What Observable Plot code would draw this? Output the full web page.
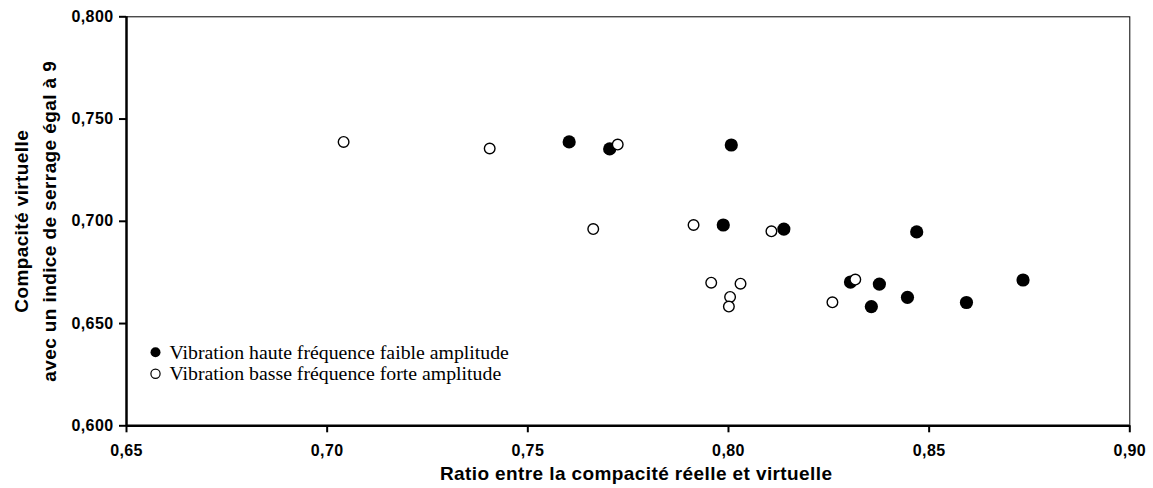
<!DOCTYPE html>
<html>
<head>
<meta charset="utf-8">
<script src="https://cdn.jsdelivr.net/npm/d3@7"></script>
<script src="https://cdn.jsdelivr.net/npm/@observablehq/plot@0.6"></script>
<style>
  html, body { margin: 0; padding: 0; background: #fff; }
  #chart { width: 1153px; height: 488px; }
</style>
</head>
<body>
<div id="chart"></div>
<script>
// Series 1: Vibration haute fréquence faible amplitude (filled)
const hfX = [0.7603, 0.7704, 0.8007, 0.7987, 0.8138, 0.8469, 0.8304, 0.8376, 0.8356, 0.8446, 0.8593, 0.8734];
const hfY = [0.7388, 0.7354, 0.7373, 0.6982, 0.6962, 0.6948, 0.6703, 0.6693, 0.6583, 0.6628, 0.6603, 0.6713];
// Series 2: Vibration basse fréquence forte amplitude (open)
const bfX = [0.7041, 0.7405, 0.7724, 0.7663, 0.7913, 0.8107, 0.7957, 0.8030, 0.8004, 0.8001, 0.8259, 0.8316];
const bfY = [0.7388, 0.7356, 0.7375, 0.6962, 0.6982, 0.6951, 0.6700, 0.6695, 0.6630, 0.6583, 0.6604, 0.6715];

const seriesNames = ["Vibration haute fréquence faible amplitude", "Vibration basse fréquence forte amplitude"];
const xTicks = [0.65, 0.70, 0.75, 0.80, 0.85, 0.90];
const yTicks = [0.600, 0.650, 0.700, 0.750, 0.800];
const xTitle = "Ratio entre la compacité réelle et virtuelle";
const yTitle = "Compacité virtuelle\navec un indice de serrage égal à 9";

const hf = hfX.map((x, i) => ({x, y: hfY[i]}));
const bf = bfX.map((x, i) => ({x, y: bfY[i]}));

const fmtX = d => d3.format(".2f")(d).replace(".", ",");
const fmtY = d => d3.format(".3f")(d).replace(".", ",");

const svg = Plot.plot({
  width: 1153,
  height: 488,
  marginLeft: 126,
  marginRight: 23.7,
  marginTop: 16.3,
  marginBottom: 62.7,
  style: {fontFamily: "'Liberation Sans', Arial, sans-serif", background: "#fff", color: "#000"},
  x: {domain: [0.65, 0.90], axis: null},
  y: {domain: [0.6, 0.8], axis: null},
  marks: [
    Plot.frame({stroke: "#000", strokeWidth: 1}),
    Plot.axisX({ticks: xTicks, tickFormat: fmtX, tickSize: 7, tickPadding: 12, fontSize: 16, fontWeight: "bold", strokeWidth: 2, label: null}),
    Plot.axisY({ticks: yTicks, tickFormat: fmtY, tickSize: 7, tickPadding: 6, fontSize: 16, fontWeight: "bold", strokeWidth: 2, label: null}),
    Plot.ruleX([0.65], {stroke: "#000", strokeWidth: 2.5}),
    Plot.ruleY([0.6], {stroke: "#000", strokeWidth: 2.5}),
    Plot.dot(hf, {x: "x", y: "y", r: 6.6, fill: "#000", stroke: "none"}),
    Plot.dot(bf, {x: "x", y: "y", r: 5.3, fill: "#fff", stroke: "#000", strokeWidth: 1.4}),
    // axis titles
    Plot.text([xTitle], {frameAnchor: "bottom", text: d => d, textAnchor: "middle", dx: 8, dy: 48, lineAnchor: "middle", fontSize: 19, fontWeight: "bold"}),
    Plot.text([yTitle], {frameAnchor: "left", text: d => d, rotate: -90, textAnchor: "middle", dx: -93.5, dy: 0, lineAnchor: "middle", lineHeight: 1.5, fontSize: 19, fontWeight: "bold"}),
    // legend
    Plot.dot([seriesNames[0]], {frameAnchor: "bottom-left", dx: 29, dy: -73.6, r: 5, fill: "#000", stroke: "none"}),
    Plot.dot([seriesNames[1]], {frameAnchor: "bottom-left", dx: 29, dy: -52, r: 4.6, fill: "#fff", stroke: "#000", strokeWidth: 1.2}),
    Plot.text([seriesNames[0]], {frameAnchor: "bottom-left", text: d => d, dx: 43, dy: -73.6, textAnchor: "start", lineAnchor: "middle", fontSize: 19.8, fontFamily: "'Liberation Serif', 'Times New Roman', serif"}),
    Plot.text([seriesNames[1]], {frameAnchor: "bottom-left", text: d => d, dx: 43, dy: -52, textAnchor: "start", lineAnchor: "middle", fontSize: 19.8, fontFamily: "'Liberation Serif', 'Times New Roman', serif"})
  ]
});

const sel = d3.select(svg).selectAll("text");
sel.filter(function() { return /^0,\d+$/.test(this.textContent); }).style("letter-spacing", "0.4px");
sel.filter(function() { return this.textContent === xTitle || this.textContent.startsWith("Compacité"); }).style("letter-spacing", "0.4px");

document.getElementById("chart").appendChild(svg);
</script>
</body>
</html>
